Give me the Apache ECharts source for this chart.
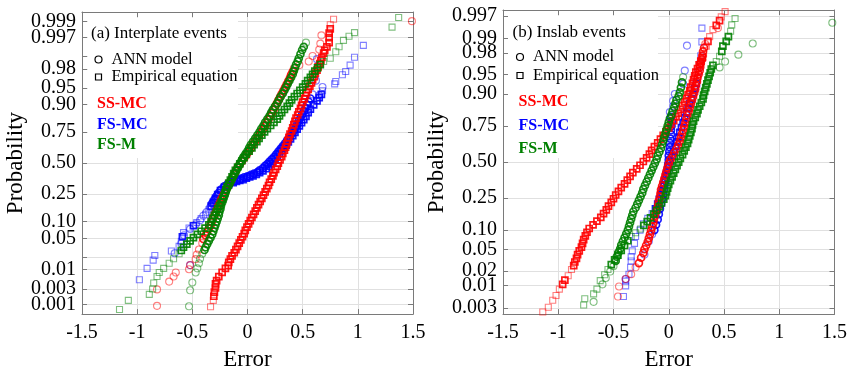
<!DOCTYPE html>
<html>
<head>
<meta charset="utf-8">
<script src="https://cdn.jsdelivr.net/npm/echarts@6/dist/echarts.min.js"></script>
<style>
    html, body { margin: 0; padding: 0; background: #fff; }
    #prob-chart { width: 850px; height: 376px; }
</style>
</head>
<body>
<div id="prob-chart"></div>
<script>
    // probability levels on the y axis (normal probability paper)
    var probTicks = ['0.001', '0.003', '0.01', '0.02', '0.05', '0.10', '0.25', '0.50', '0.75', '0.90', '0.95', '0.98', '0.99', '0.997', '0.999'];
    var probLabelsA = ['0.001', '0.003', '0.01', '0.05', '0.10', '0.25', '0.50', '0.75', '0.90', '0.95', '0.98', '0.997', '0.999'];
    var probLabelsB = ['0.003', '0.01', '0.02', '0.05', '0.10', '0.25', '0.50', '0.75', '0.90', '0.95', '0.98', '0.99', '0.997'];

    // each point: [error, normal quantile of its plotting position]
    // (a) Interplate events
    var ssmcAnnA = [
        [-0.82,-3.12],[-0.82,-2.76],[-0.71,-2.59],[-0.67,-2.48],[-0.65,-2.39],[-0.53,-2.32],[-0.52,-2.23],[-0.47,-2.10],[-0.46,-2.0],[-0.44,-1.89],[-0.41,-1.75],[-0.40,-1.66],[-0.38,-1.58],
        [-0.365,-1.50],[-0.35,-1.43],[-0.335,-1.36],[-0.325,-1.29],[-0.315,-1.22],[-0.30,-1.15],[-0.29,-1.08],[-0.275,-1.01],[-0.265,-0.94],[-0.25,-0.87],[-0.24,-0.80],[-0.225,-0.73],[-0.21,-0.66],[-0.195,-0.59],[-0.18,-0.52],[-0.165,-0.45],[-0.15,-0.38],[-0.135,-0.31],[-0.12,-0.24],[-0.105,-0.17],[-0.09,-0.10],[-0.07,-0.03],[-0.05,0.04],[-0.03,0.11],[-0.01,0.18],[0.01,0.25],[0.03,0.32],[0.045,0.39],[0.065,0.46],[0.085,0.53],[0.105,0.60],[0.125,0.67],[0.14,0.74],[0.16,0.81],[0.175,0.88],[0.19,0.95],[0.205,1.02],[0.22,1.09],[0.235,1.16],[0.25,1.23],[0.265,1.30],[0.28,1.37],[0.295,1.44],[0.31,1.51],[0.325,1.58],[0.34,1.65],[0.355,1.72],[0.37,1.79],[0.385,1.86],[0.395,1.93],[0.41,2.00],[0.42,2.07],
        [0.47,2.14],[0.555,2.22],[0.59,2.34],[0.65,2.48],[0.66,2.61],[0.67,2.79],[1.49,3.10]
    ];
    var ssmcEmpA = [
        [-0.335,-3.14],[-0.31,-3.0],[-0.305,-2.91],[-0.30,-2.82],[-0.29,-2.73],[-0.29,-2.64],[-0.28,-2.57],[-0.26,-2.48],[-0.23,-2.39],[-0.20,-2.30],
        [-0.175,-2.24],[-0.17,-2.17],[-0.155,-2.10],[-0.14,-2.03],[-0.12,-1.96],[-0.105,-1.89],[-0.09,-1.82],[-0.075,-1.75],[-0.06,-1.68],[-0.045,-1.61],[-0.03,-1.54],[-0.02,-1.47],[-0.005,-1.40],[0.01,-1.33],[0.025,-1.26],[0.04,-1.19],[0.055,-1.12],[0.07,-1.05],[0.085,-0.98],[0.10,-0.91],[0.115,-0.84],[0.13,-0.77],[0.145,-0.70],[0.16,-0.63],[0.175,-0.56],[0.19,-0.49],[0.20,-0.42],[0.215,-0.35],[0.23,-0.28],[0.24,-0.21],[0.255,-0.14],[0.27,-0.07],[0.28,0],[0.295,0.07],[0.31,0.14],[0.32,0.21],[0.335,0.28],[0.345,0.35],[0.355,0.42],[0.365,0.49],[0.375,0.56],[0.385,0.63],[0.40,0.70],[0.41,0.77],[0.42,0.84],[0.43,0.91],[0.44,0.98],[0.455,1.05],[0.465,1.12],[0.48,1.19],[0.49,1.26],[0.50,1.33],[0.515,1.40],[0.525,1.47],[0.535,1.54],[0.55,1.61],[0.565,1.68],[0.58,1.75],[0.59,1.82],[0.605,1.89],[0.615,1.96],[0.63,2.03],[0.64,2.10],[0.655,2.17],[0.665,2.24],[0.675,2.31],
        [0.69,2.40],[0.70,2.46],[0.72,2.54],[0.74,2.63],[0.74,2.74],[0.74,2.84],[0.75,2.93],[0.75,3.02],[0.78,3.14]
    ];
    var fsmcAnnA = [
        [-0.52,-2.23],[-0.66,-1.97],[-0.60,-1.76],[-0.575,-1.58],[-0.52,-1.44],[-0.47,-1.34],[-0.43,-1.25],[-0.40,-1.15],[-0.37,-1.07],[-0.34,-0.97],[-0.32,-0.88],[-0.30,-0.80],[-0.28,-0.72],[-0.26,-0.65],[-0.24,-0.58],[-0.21,-0.51],[-0.18,-0.46],[-0.15,-0.42],[-0.12,-0.39],[-0.09,-0.36],[-0.06,-0.34],[-0.03,-0.31],[0.0,-0.29],[0.03,-0.26],[0.06,-0.23],[0.09,-0.20],[0.11,-0.16],[0.14,-0.11],[0.16,-0.06],[0.18,-0.02],[0.20,0.03],[0.22,0.08],[0.24,0.13],[0.26,0.19],[0.28,0.25],[0.30,0.31],[0.32,0.37],[0.34,0.43],[0.36,0.50],[0.38,0.57],[0.40,0.64],[0.42,0.71],[0.435,0.78],[0.45,0.85],[0.465,0.92],[0.48,0.99],[0.495,1.06],[0.51,1.13],[0.525,1.20],[0.54,1.27],[0.555,1.34],[0.57,1.41],[0.59,1.50],
        [0.65,1.48],[0.68,1.66],[0.62,1.80],[0.63,2.27]
    ];
    var fsmcEmpA = [
        [-0.98,-2.55],[-0.91,-2.30],[-0.855,-2.12],[-0.84,-2.02],[-0.69,-1.92],[-0.62,-1.82],[-0.60,-1.71],[-0.59,-1.61],[-0.58,-1.52],[-0.53,-1.42],[-0.49,-1.37],[-0.46,-1.30],[-0.42,-1.21],[-0.38,-1.12],[-0.35,-1.02],[-0.33,-0.94],[-0.31,-0.86],[-0.29,-0.77],[-0.27,-0.69],[-0.245,-0.60],[-0.21,-0.53],[-0.17,-0.47],[-0.13,-0.43],[-0.10,-0.40],[-0.07,-0.38],[-0.04,-0.36],[-0.01,-0.33],[0.02,-0.30],[0.05,-0.28],[0.08,-0.25],[0.11,-0.21],[0.14,-0.17],[0.17,-0.12],[0.19,-0.07],[0.21,-0.02],[0.23,0.03],[0.25,0.09],[0.27,0.15],[0.29,0.21],[0.31,0.27],[0.33,0.33],[0.35,0.39],[0.37,0.46],[0.39,0.53],[0.41,0.60],[0.43,0.67],[0.45,0.74],[0.47,0.81],[0.49,0.88],[0.51,0.95],[0.53,1.02],[0.55,1.10],[0.57,1.18],[0.60,1.27],[0.63,1.36],[0.65,1.43],[0.67,1.50],[0.68,1.58],
        [0.79,1.73],[0.80,1.78],[0.86,1.93],[0.89,2.00],[0.93,2.14],[0.97,2.31],[1.05,2.57]
    ];
    var fsmAnnA = [
        [-0.53,-3.13],[-0.52,-2.78],[-0.50,-2.61],[-0.47,-2.39],[-0.455,-2.30],[-0.44,-2.19],[-0.43,-2.09],[-0.41,-1.98],[-0.39,-1.90],
        [-0.38,-1.84],[-0.365,-1.77],[-0.35,-1.70],[-0.335,-1.63],[-0.32,-1.56],[-0.31,-1.49],[-0.30,-1.42],[-0.29,-1.35],[-0.28,-1.28],[-0.27,-1.21],[-0.26,-1.14],[-0.255,-1.07],[-0.245,-1.00],[-0.24,-0.93],[-0.23,-0.86],[-0.22,-0.79],[-0.21,-0.72],[-0.20,-0.65],[-0.19,-0.58],[-0.175,-0.51],[-0.16,-0.44],[-0.145,-0.37],[-0.13,-0.30],[-0.115,-0.23],[-0.10,-0.16],[-0.085,-0.09],[-0.07,-0.02],[-0.055,0.05],[-0.04,0.12],[-0.02,0.19],[0.0,0.26],[0.015,0.33],[0.03,0.40],[0.05,0.47],[0.07,0.54],[0.09,0.61],[0.11,0.68],[0.125,0.75],[0.145,0.82],[0.16,0.89],[0.18,0.96],[0.20,1.03],[0.215,1.10],[0.23,1.17],[0.25,1.24],[0.27,1.31],[0.285,1.38],[0.30,1.45],[0.32,1.52],[0.335,1.59],[0.35,1.66],[0.365,1.73],[0.38,1.80],[0.395,1.87],[0.41,1.94],[0.42,2.01],[0.43,2.08],[0.44,2.15],[0.455,2.22],
        [0.465,2.29],[0.48,2.38],[0.495,2.47],[0.51,2.54],[0.53,2.63]
    ];
    var fsmEmpA = [
        [-1.16,-3.2],[-1.08,-3.0],[-0.89,-2.87],[-0.86,-2.75],[-0.85,-2.62],[-0.82,-2.48],[-0.80,-2.39],[-0.76,-2.30],[-0.71,-2.19],[-0.67,-2.09],[-0.62,-1.98],
        [-0.60,-1.91],[-0.58,-1.84],[-0.55,-1.77],[-0.52,-1.70],[-0.49,-1.63],[-0.455,-1.56],[-0.42,-1.49],[-0.385,-1.42],[-0.35,-1.35],[-0.33,-1.28],[-0.315,-1.21],[-0.30,-1.14],[-0.285,-1.07],[-0.27,-1.00],[-0.255,-0.93],[-0.24,-0.86],[-0.225,-0.79],[-0.215,-0.72],[-0.205,-0.65],[-0.195,-0.58],[-0.185,-0.51],[-0.17,-0.44],[-0.155,-0.37],[-0.14,-0.30],[-0.125,-0.23],[-0.11,-0.16],[-0.09,-0.09],[-0.07,-0.02],[-0.05,0.05],[-0.03,0.12],[-0.01,0.19],[0.015,0.26],[0.04,0.33],[0.06,0.40],[0.085,0.47],[0.105,0.54],[0.13,0.61],[0.155,0.68],[0.18,0.75],[0.21,0.82],[0.24,0.89],[0.27,0.96],[0.29,1.03],[0.31,1.10],[0.335,1.17],[0.36,1.24],[0.38,1.31],[0.40,1.38],[0.425,1.45],[0.45,1.52],[0.475,1.59],[0.50,1.66],[0.525,1.73],[0.545,1.80],[0.57,1.87],[0.59,1.94],[0.61,2.01],[0.635,2.08],[0.66,2.15],[0.69,2.22],
        [0.75,2.29],[0.80,2.43],[0.83,2.54],[0.87,2.68],[0.92,2.77],[0.97,2.85],[1.31,2.97],[1.37,3.18]
    ];

    // (b) Inslab events
    var ssmcAnnB = [
        [-0.46,-2.53],[-0.45,-2.34],[-0.39,-2.20],[-0.34,-2.11],[-0.30,-1.98],[-0.27,-1.90],[-0.25,-1.80],[-0.23,-1.71],
        [-0.22,-1.64],[-0.205,-1.57],[-0.19,-1.50],[-0.18,-1.43],[-0.17,-1.36],[-0.16,-1.29],[-0.15,-1.22],[-0.14,-1.15],[-0.135,-1.08],[-0.125,-1.01],[-0.115,-0.94],[-0.105,-0.87],[-0.095,-0.80],[-0.09,-0.73],[-0.08,-0.66],[-0.075,-0.59],[-0.07,-0.52],[-0.06,-0.45],[-0.05,-0.38],[-0.04,-0.31],[-0.03,-0.24],[-0.02,-0.17],[-0.01,-0.10],[0.0,-0.03],[0.015,0.04],[0.035,0.11],[0.05,0.18],[0.07,0.25],[0.085,0.32],[0.10,0.39],[0.11,0.46],[0.12,0.53],[0.13,0.60],[0.14,0.67],[0.15,0.74],[0.16,0.81],[0.17,0.88],[0.18,0.95],[0.19,1.02],[0.20,1.09],[0.21,1.16],[0.22,1.23],[0.23,1.30],[0.24,1.37],[0.245,1.44],[0.255,1.51],[0.26,1.58],[0.27,1.65],[0.28,1.72],[0.285,1.79],[0.29,1.86],[0.30,1.93],[0.305,2.00],
        [0.31,2.08],[0.32,2.15],[0.33,2.22],[0.445,2.52]
    ];
    var ssmcEmpB = [
        [-1.14,-2.82],[-1.09,-2.73],[-1.05,-2.60],[-1.02,-2.51],[-0.99,-2.39],[-0.96,-2.30],[-0.94,-2.22],[-0.91,-2.14],[-0.88,-2.02],
        [-0.86,-1.95],[-0.85,-1.88],[-0.835,-1.81],[-0.825,-1.74],[-0.81,-1.67],[-0.79,-1.60],[-0.78,-1.53],[-0.77,-1.46],[-0.755,-1.39],[-0.74,-1.32],[-0.72,-1.25],[-0.685,-1.18],[-0.65,-1.11],[-0.615,-1.04],[-0.59,-0.97],[-0.565,-0.90],[-0.545,-0.83],[-0.52,-0.76],[-0.50,-0.69],[-0.48,-0.62],[-0.455,-0.55],[-0.43,-0.48],[-0.40,-0.41],[-0.375,-0.34],[-0.35,-0.27],[-0.325,-0.20],[-0.29,-0.13],[-0.26,-0.06],[-0.23,0.01],[-0.20,0.08],[-0.175,0.15],[-0.155,0.22],[-0.13,0.29],[-0.10,0.36],[-0.075,0.43],[-0.05,0.50],[-0.025,0.57],[0.0,0.64],[0.02,0.71],[0.045,0.78],[0.065,0.85],[0.085,0.92],[0.105,0.99],[0.125,1.06],[0.145,1.13],[0.16,1.20],[0.175,1.27],[0.19,1.34],[0.20,1.41],[0.215,1.48],[0.225,1.55],[0.235,1.62],[0.245,1.69],[0.26,1.76],[0.275,1.83],[0.29,1.90],[0.305,1.97],[0.315,2.04],
        [0.34,2.18],[0.355,2.27],[0.37,2.36],[0.40,2.49],[0.43,2.57],[0.46,2.66],[0.475,2.73],[0.51,2.83]
    ];
    var fsmcAnnB = [
        [-0.39,-2.20],[-0.22,-1.74],[-0.18,-1.49],[-0.15,-1.36],[-0.13,-1.28],[-0.115,-1.18],[-0.10,-1.08],[-0.09,-0.98],[-0.08,-0.88],[-0.07,-0.79],[-0.06,-0.70],[-0.05,-0.61],[-0.045,-0.52],[-0.04,-0.44],[-0.03,-0.36],[-0.025,-0.28],[-0.02,-0.20],[-0.01,-0.12],[-0.005,-0.04],[0.0,0.04],[0.0,0.12],[0.005,0.20],[0.01,0.28],[0.01,0.36],[0.015,0.44],[0.02,0.52],[0.02,0.60],[0.025,0.68],[0.03,0.76],[0.02,0.85],[0.01,0.94],[0.04,1.05],[0.04,1.15],[0.055,1.28],
        [0.13,1.47],[0.145,1.72],[0.165,2.19]
    ];
    var fsmcEmpB = [
        [-0.41,-2.53],[-0.39,-2.33],[-0.39,-2.24],[-0.36,-2.11],[-0.345,-1.98],[-0.34,-1.86],[-0.34,-1.78],[-0.33,-1.67],[-0.31,-1.53],[-0.30,-1.40],[-0.26,-1.28],[-0.23,-1.16],[-0.19,-1.06],[-0.15,-0.97],[-0.12,-0.88],[-0.10,-0.79],[-0.085,-0.70],[-0.07,-0.61],[-0.06,-0.52],[-0.045,-0.43],[-0.035,-0.34],[-0.025,-0.25],[-0.01,-0.16],[0.0,-0.07],[0.015,0.02],[0.03,0.11],[0.045,0.20],[0.06,0.29],[0.075,0.38],[0.09,0.47],[0.10,0.56],[0.115,0.65],[0.13,0.74],[0.145,0.83],[0.16,0.92],[0.175,1.01],[0.19,1.10],[0.205,1.19],[0.22,1.28],[0.235,1.38],[0.25,1.48],[0.26,1.58],[0.27,1.70],[0.28,1.84],[0.29,2.00],[0.30,2.26],[0.30,2.52]
    ];
    var fsmAnnB = [
        [-0.68,-2.63],[-0.60,-2.30],[-0.57,-2.18],[-0.53,-2.06],[-0.50,-1.96],[-0.48,-1.86],[-0.47,-1.78],[-0.455,-1.70],[-0.44,-1.63],[-0.43,-1.56],[-0.415,-1.49],[-0.40,-1.42],[-0.385,-1.35],[-0.37,-1.28],[-0.36,-1.21],[-0.35,-1.14],[-0.34,-1.07],[-0.33,-1.00],[-0.32,-0.93],[-0.30,-0.86],[-0.285,-0.79],[-0.27,-0.72],[-0.255,-0.65],[-0.24,-0.58],[-0.23,-0.51],[-0.215,-0.44],[-0.20,-0.37],[-0.185,-0.30],[-0.17,-0.23],[-0.155,-0.16],[-0.14,-0.09],[-0.125,-0.02],[-0.11,0.05],[-0.10,0.12],[-0.085,0.19],[-0.07,0.26],[-0.06,0.33],[-0.05,0.40],[-0.04,0.47],[-0.03,0.54],[-0.02,0.61],[-0.01,0.68],[0.0,0.75],[0.01,0.82],[0.025,0.89],[0.035,0.96],[0.05,1.03],[0.06,1.10],[0.07,1.17],[0.09,1.24],[0.10,1.31],[0.11,1.40],[0.12,1.50],[0.13,1.60],
        [0.46,1.78],[0.51,1.89],[0.63,2.02],[0.76,2.23],[1.48,2.62]
    ];
    var fsmEmpB = [
        [-0.77,-2.69],[-0.76,-2.57],[-0.68,-2.48],[-0.65,-2.39],[-0.62,-2.23],[-0.58,-2.12],[-0.55,-2.02],[-0.52,-1.93],[-0.49,-1.84],[-0.46,-1.75],[-0.43,-1.66],[-0.40,-1.57],[-0.37,-1.48],[-0.34,-1.40],[-0.30,-1.33],
        [-0.255,-1.26],[-0.225,-1.19],[-0.195,-1.12],[-0.165,-1.05],[-0.135,-0.98],[-0.11,-0.91],[-0.085,-0.84],[-0.065,-0.77],[-0.045,-0.70],[-0.03,-0.63],[-0.02,-0.56],[-0.01,-0.49],[0.0,-0.42],[0.015,-0.35],[0.03,-0.28],[0.045,-0.21],[0.06,-0.14],[0.075,-0.07],[0.09,0.0],[0.105,0.07],[0.125,0.14],[0.14,0.21],[0.155,0.28],[0.17,0.35],[0.18,0.42],[0.19,0.49],[0.20,0.56],[0.21,0.63],[0.215,0.70],[0.225,0.77],[0.24,0.84],[0.255,0.91],[0.265,0.98],[0.28,1.05],[0.295,1.12],[0.31,1.19],[0.315,1.26],[0.325,1.33],[0.335,1.40],[0.345,1.47],[0.355,1.54],[0.365,1.61],[0.375,1.68],[0.385,1.75],[0.40,1.82],[0.43,1.89],
        [0.46,1.99],[0.48,2.08],[0.49,2.18],[0.52,2.27],[0.54,2.36],[0.56,2.46],[0.57,2.58],[0.60,2.70]
    ];

    var RED = '#ff0000', BLUE = '#0000ff', GREEN = '#008000';
    var FONT = 'Liberation Serif';

    //标准正态分布的分位数 (Acklam)
    function probit(p) {
        var a = [-3.969683028665376e+01, 2.209460984245205e+02, -2.759285104469687e+02, 1.383577518672690e+02, -3.066479806614716e+01, 2.506628277459239e+00];
        var b = [-5.447609879822406e+01, 1.615858368580409e+02, -1.556989798598866e+02, 6.680131188771972e+01, -1.328068155288572e+01];
        var c = [-7.784894002430293e-03, -3.223964580411365e-01, -2.400758277161838e+00, -2.549732539343734e+00, 4.374664141464968e+00, 2.938163982698783e+00];
        var d = [7.784695709041462e-03, 3.224671290700398e-01, 2.445134137142996e+00, 3.754408661907416e+00];
        var q, r;
        if (p < 0.02425) {
            q = Math.sqrt(-2 * Math.log(p));
            return (((((c[0] * q + c[1]) * q + c[2]) * q + c[3]) * q + c[4]) * q + c[5]) / ((((d[0] * q + d[1]) * q + d[2]) * q + d[3]) * q + 1);
        }
        if (p > 1 - 0.02425) {
            return -probit(1 - p);
        }
        q = p - 0.5; r = q * q;
        return (((((a[0] * r + a[1]) * r + a[2]) * r + a[3]) * r + a[4]) * r + a[5]) * q / (((((b[0] * r + b[1]) * r + b[2]) * r + b[3]) * r + b[4]) * r + 1);
    }

    function zOf(list, lim) {
        return list.map(function (s) { return probit(parseFloat(s)); })
            .filter(function (z) { return Math.abs(z) < lim; });
    }
    function probLabel(v) {
        for (var i = 0; i < probTicks.length; i++) {
            if (Math.abs(probit(parseFloat(probTicks[i])) - v) < 1e-6) return probTicks[i];
        }
        return '';
    }

    var panels = [
        {left: 82, top: 12, width: 331, height: 307, zmax: 3.3, labels: probLabelsA},
        {left: 503, top: 10, width: 332, height: 308, zmax: 2.86, labels: probLabelsB}
    ];

    var AXIS_GREY = '#7a7a7a', GRID_GREY = '#e0e0e0';
    var grids = [], xAxes = [], yAxes = [];
    panels.forEach(function (p, i) {
        var tickZ = zOf(probTicks, p.zmax);
        var labelZ = zOf(p.labels, p.zmax);
        //相邻标签分到两根轴上, 避免被自动隐藏
        var evenZ = labelZ.filter(function (z, k) { return k % 2 === 0; });
        var oddZ = labelZ.filter(function (z, k) { return k % 2 === 1; });
        var labelStyle = {fontFamily: FONT, fontSize: 20, color: '#000', margin: 6, formatter: probLabel};

        grids.push({left: p.left, top: p.top, width: p.width, height: p.height, show: false});
        //底部 x 轴
        xAxes.push({
            gridIndex: i, type: 'value', min: -1.5, max: 1.5, interval: 0.5, position: 'bottom',
            name: 'Error', nameLocation: 'middle', nameGap: 31,
            nameTextStyle: {fontFamily: FONT, fontSize: 23, color: '#000'},
            axisLine: {onZero: false, lineStyle: {color: AXIS_GREY}},
            axisTick: {inside: true, length: 5, lineStyle: {color: AXIS_GREY}},
            axisLabel: {fontFamily: FONT, fontSize: 20, color: '#000', margin: 9},
            splitLine: {show: true, lineStyle: {color: GRID_GREY}}
        });
        //顶部镜像轴, 只画刻度
        xAxes.push({
            gridIndex: i, type: 'value', min: -1.5, max: 1.5, interval: 0.5, position: 'top',
            axisLine: {onZero: false, lineStyle: {color: AXIS_GREY}},
            axisTick: {inside: true, length: 5, lineStyle: {color: AXIS_GREY}},
            axisLabel: {show: false}, splitLine: {show: false}
        });
        yAxes.push({
            gridIndex: i, type: 'value', min: -p.zmax, max: p.zmax, position: 'left',
            name: 'Probability', nameLocation: 'middle', nameGap: 54,
            nameTextStyle: {fontFamily: FONT, fontSize: 23, color: '#000'},
            axisLine: {onZero: false, lineStyle: {color: AXIS_GREY}},
            axisTick: {inside: true, length: 5, lineStyle: {color: AXIS_GREY}, customValues: tickZ},
            axisLabel: Object.assign({customValues: evenZ}, labelStyle),
            splitLine: {show: true, lineStyle: {color: GRID_GREY}}
        });
        yAxes.push({
            gridIndex: i, type: 'value', min: -p.zmax, max: p.zmax, position: 'right',
            axisLine: {onZero: false, lineStyle: {color: AXIS_GREY}},
            axisTick: {inside: true, length: 5, lineStyle: {color: AXIS_GREY}, customValues: tickZ},
            axisLabel: {show: false}, splitLine: {show: false}
        });
        yAxes.push({
            gridIndex: i, type: 'value', min: -p.zmax, max: p.zmax, position: 'left', offset: 0,
            axisLine: {show: false}, axisTick: {show: false}, splitLine: {show: false},
            axisLabel: Object.assign({customValues: oddZ}, labelStyle)
        });
    });

    var seriesDefs = [
        [0, fsmcEmpA, BLUE, 'rect'], [0, fsmcAnnA, BLUE, 'circle'],
        [0, ssmcEmpA, RED, 'rect'], [0, ssmcAnnA, RED, 'circle'],
        [0, fsmEmpA, GREEN, 'rect'], [0, fsmAnnA, GREEN, 'circle'],
        [1, fsmcEmpB, BLUE, 'rect'], [1, fsmcAnnB, BLUE, 'circle'],
        [1, ssmcEmpB, RED, 'rect'], [1, ssmcAnnB, RED, 'circle'],
        [1, fsmEmpB, GREEN, 'rect'], [1, fsmAnnB, GREEN, 'circle']
    ];

    //点越密集颜色越深(模拟大量重叠的空心点): 两侧都有近邻才算密集
    function styledPoints(pts) {
        return pts.map(function (pt, k) {
            var near = 0;
            pts.forEach(function (q, j) {
                if (j === k) return;
                var dx = (q[0] - pt[0]) * 110, dz = (q[1] - pt[1]) * 50;
                if (Math.sqrt(dx * dx + dz * dz) < 5.6) near++;
            });
            var dense = near >= 2;
            return {value: pt, itemStyle: {opacity: dense ? 0.9 : 0.5, borderWidth: dense ? 1.7 : 1.1}};
        });
    }

    var series = seriesDefs.map(function (s) {
        return {
            type: 'scatter', xAxisIndex: s[0] * 2, yAxisIndex: s[0] * 3, z: 3,
            symbol: s[3], symbolSize: s[3] === 'rect' ? 6 : 7,
            itemStyle: {color: 'rgba(0,0,0,0)', borderColor: s[2], borderWidth: 1.2},
            data: styledPoints(s[1])
        };
    });

    //图中的说明文字(白底), 放在网格线之上、数据点之下
    function legendBlock(x0, y0, w, h, title, tx, rows) {
        var els = [
            {type: 'rect', z: 1, shape: {x: x0, y: y0, width: w, height: h}, style: {fill: '#fff'}},
            {type: 'text', z: 1, x: tx, y: rows[0], style: {text: title, fontFamily: FONT, fontSize: 17, fill: '#000', verticalAlign: 'middle'}},
            {type: 'circle', z: 1, shape: {cx: tx + 7.5, cy: rows[1], r: 3.5}, style: {fill: 'none', stroke: '#000', lineWidth: 1.2}},
            {type: 'text', z: 1, x: tx + 20.5, y: rows[1], style: {text: 'ANN model', fontFamily: FONT, fontSize: 16.5, fill: '#000', verticalAlign: 'middle'}},
            {type: 'rect', z: 1, shape: {x: tx + 4.5, y: rows[2] - 3, width: 6, height: 6}, style: {fill: 'none', stroke: '#000', lineWidth: 1.2}},
            {type: 'text', z: 1, x: tx + 20.5, y: rows[2], style: {text: 'Empirical equation', fontFamily: FONT, fontSize: 16.5, fill: '#000', verticalAlign: 'middle'}}
        ];
        [['SS-MC', RED], ['FS-MC', BLUE], ['FS-M', GREEN]].forEach(function (g, k) {
            els.push({type: 'text', z: 1, x: tx + 6, y: rows[3 + k], style: {text: g[0], fontFamily: FONT, fontSize: 16, fontWeight: 'bold', fill: g[1], verticalAlign: 'middle'}});
        });
        return els;
    }

    var chart = echarts.init(document.getElementById('prob-chart'));
    chart.setOption({
        animation: false,
        backgroundColor: '#fff',
        grid: grids,
        xAxis: xAxes,
        yAxis: yAxes,
        series: series,
        graphic: {
            z: 1,
            elements: legendBlock(88, 18, 150, 140, '(a) Interplate events', 91, [33.5, 59.5, 77, 103.5, 124.5, 145])
                .concat(legendBlock(508, 16, 150, 142, '(b) Inslab events', 512.5, [32.5, 57, 75.5, 102, 126, 149]))
        }
    });
</script>
</body>
</html>
